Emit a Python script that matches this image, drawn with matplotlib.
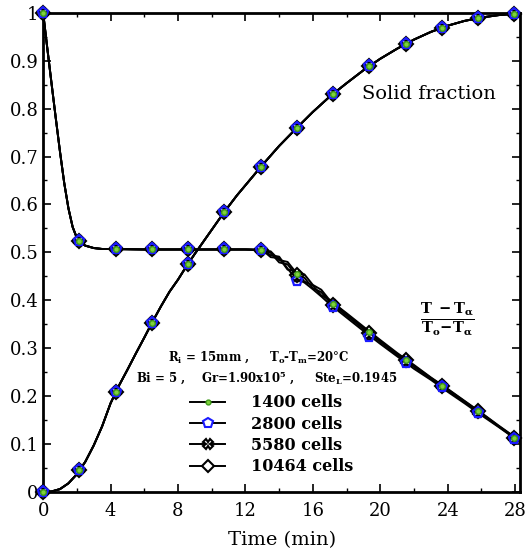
import matplotlib.pyplot as plt
from matplotlib.lines import Line2D
from matplotlib.ticker import MultipleLocator, FormatStrFormatter

plt.rcParams['font.family'] = 'DejaVu Serif'
plt.rcParams['mathtext.fontset'] = 'dejavuserif'

# solid fraction curve (same for every mesh)
t_sf = [0, 0.5, 1.0, 1.5, 2.0, 2.5, 3.0, 3.5, 4.0, 4.5, 5.0, 5.5, 6.0, 6.5, 7.0, 7.5,
        8.0, 8.5, 9.0, 9.5, 10.0, 10.5, 11.0, 11.5, 12.0, 12.5, 13, 14, 15, 16, 17,
        18, 19, 20, 21, 22, 23, 24, 25, 26, 27, 28, 28.3]
sf = [0, 0.001, 0.006, 0.018, 0.037, 0.063, 0.097, 0.137, 0.185, 0.222, 0.255, 0.289,
      0.322, 0.356, 0.388, 0.418, 0.443, 0.471, 0.497, 0.522, 0.547, 0.572, 0.596,
      0.619, 0.640, 0.661, 0.682, 0.722, 0.758, 0.793, 0.825, 0.853, 0.880, 0.904,
      0.925, 0.944, 0.960, 0.973, 0.983, 0.990, 0.995, 0.998, 0.999]

# dimensionless temperature, common part up to t = 13 min
t_temp = [0, 0.25, 0.5, 0.75, 1.0, 1.25, 1.5, 1.75, 2.0, 2.25, 2.5, 3.0, 3.5, 4.0,
          6.0, 8.0, 10.0, 12.0, 13.0]
temp = [1.0, 0.925, 0.852, 0.78, 0.71, 0.645, 0.592, 0.553, 0.53, 0.52, 0.514,
        0.509, 0.507, 0.507, 0.506, 0.506, 0.506, 0.506, 0.505]

# tails after 13 min for each mesh
t_tail = [13.5, 14.0, 14.5, 15.0, 15.5, 16.0, 16.5, 17.0, 18, 19, 20, 21, 22, 23,
          24, 25, 26, 27, 28, 28.3]
tail_1400 = [0.502, 0.484, 0.480, 0.458, 0.454, 0.432, 0.422, 0.400, 0.373, 0.345,
             0.317, 0.290, 0.265, 0.239, 0.215, 0.190, 0.165, 0.139, 0.114, 0.106]
tail_2800 = [0.494, 0.491, 0.466, 0.445, 0.437, 0.423, 0.408, 0.392, 0.364, 0.336,
             0.309, 0.283, 0.257, 0.234, 0.209, 0.185, 0.160, 0.136, 0.111, 0.103]
tail_5580 = [0.499, 0.479, 0.475, 0.452, 0.447, 0.425, 0.417, 0.396, 0.368, 0.340,
             0.313, 0.286, 0.261, 0.236, 0.212, 0.187, 0.163, 0.137, 0.112, 0.104]
tail_10464 = [0.490, 0.488, 0.464, 0.461, 0.439, 0.431, 0.410, 0.401, 0.371, 0.343,
              0.315, 0.288, 0.263, 0.238, 0.214, 0.189, 0.164, 0.138, 0.113, 0.105]

# marker positions
t_mark = [0, 2.15, 4.3, 6.45, 8.6, 10.75, 12.9, 15.05, 17.2, 19.35, 21.5, 23.65, 25.8, 27.95]
sf_mark = [0, 0.045, 0.209, 0.353, 0.476, 0.585, 0.678, 0.76, 0.831, 0.889, 0.935,
           0.969, 0.988, 0.998]
temp_mark_1400 = [1.0, 0.523, 0.507, 0.506, 0.506, 0.506, 0.505, 0.455, 0.392, 0.333,
                  0.275, 0.222, 0.168, 0.113]
temp_mark_2800 = [1.0, 0.523, 0.507, 0.506, 0.506, 0.506, 0.505, 0.440, 0.386, 0.324,
                  0.270, 0.218, 0.165, 0.111]
temp_mark_5580 = [1.0, 0.523, 0.507, 0.506, 0.506, 0.506, 0.505, 0.450, 0.390, 0.330,
                  0.274, 0.221, 0.167, 0.112]
temp_mark_10464 = [1.0, 0.523, 0.507, 0.506, 0.506, 0.506, 0.505, 0.452, 0.391, 0.331,
                   0.275, 0.222, 0.168, 0.113]

labels = ['1400 cells', '2800 cells', '5580 cells', '10464 cells']
tails = [tail_1400, tail_2800, tail_5580, tail_10464]
temp_marks = [temp_mark_1400, temp_mark_2800, temp_mark_5580, temp_mark_10464]
styles = [
    dict(marker='o', ms=4, mfc='#7fd13b', mec='#3f9a1a', mew=1),
    dict(marker='p', ms=8, mfc='none', mec='#1a1aff', mew=1.6),
    dict(marker='X', ms=7, mfc='white', mec='black', mew=1.5),
    dict(marker='D', ms=7, mfc='white', mec='black', mew=1.5),
]
leg_styles = [
    dict(marker='o', ms=3.5, mfc='#7fd13b', mec='#3f9a1a', mew=1),
    dict(marker='p', ms=7, mfc='white', mec='#1a1aff', mew=1.5),
    dict(marker='X', ms=6.5, mfc='white', mec='black', mew=1.5),
    dict(marker='D', ms=6.5, mfc='white', mec='black', mew=1.5),
]
zorders = [6, 5, 4, 3]

fig = plt.figure(figsize=(5.26, 5.54), dpi=100)
ax = fig.add_axes([0.082, 0.112, 0.907, 0.865])

handles = []
for i in range(4):
    ax.plot(t_sf, sf, color='black', lw=1.4, zorder=2)
    ax.plot(t_temp + t_tail, temp + tails[i], color='black', lw=1.4, zorder=2)
    ax.plot(t_mark, sf_mark, ls='none', zorder=zorders[i], clip_on=False, **styles[i])
    ax.plot(t_mark, temp_marks[i], ls='none', zorder=zorders[i], clip_on=False, **styles[i])
    handles.append(Line2D([], [], color='black', lw=1.4, **leg_styles[i]))

ax.set_xlim(0, 28.3)
ax.set_ylim(0, 1)
ax.xaxis.set_major_locator(MultipleLocator(4))
ax.xaxis.set_minor_locator(MultipleLocator(2))
ax.yaxis.set_major_locator(MultipleLocator(0.1))
ax.yaxis.set_minor_locator(MultipleLocator(0.05))
ax.yaxis.set_major_formatter(FormatStrFormatter('%g'))
ax.tick_params(which='both', direction='in', top=True, right=True, labelsize=13)
ax.tick_params(axis='x', which='major', pad=7)
ax.tick_params(which='major', length=6, width=1.2)
ax.tick_params(which='minor', length=3, width=1)
for s in ax.spines.values():
    s.set_linewidth(2)

ax.set_xlabel('Time (min)', fontsize=14, labelpad=8)

ax.text(18.9, 0.83, 'Solid fraction', fontsize=14, va='center')
ax.text(24.0, 0.36, r'$\mathbf{\frac{T\ -T_{\alpha}}{T_{o}\!-\!T_{\alpha}}}$',
        fontsize=15, ha='center', va='center')
ax.text(7.4, 0.28, r'R$_\mathbf{i}$ = 15mm ,     T$_\mathbf{o}$-T$_\mathbf{m}$=20°C',
        fontsize=8.5, fontweight='bold', va='center')
ax.text(5.5, 0.237, r'Bi = 5 ,    Gr=1.90x10$^\mathbf{5}$ ,     Ste$_\mathbf{L}$=0.1945',
        fontsize=8.5, fontweight='bold', va='center')

ax.legend(handles, labels, loc='upper left', bbox_to_anchor=(0.295, 0.217), frameon=False,
          prop=dict(size=11.5, weight='bold'), handlelength=2.2, labelspacing=0.27,
          handletextpad=1.6, borderaxespad=0)

fig.savefig('out.png', dpi=100)
